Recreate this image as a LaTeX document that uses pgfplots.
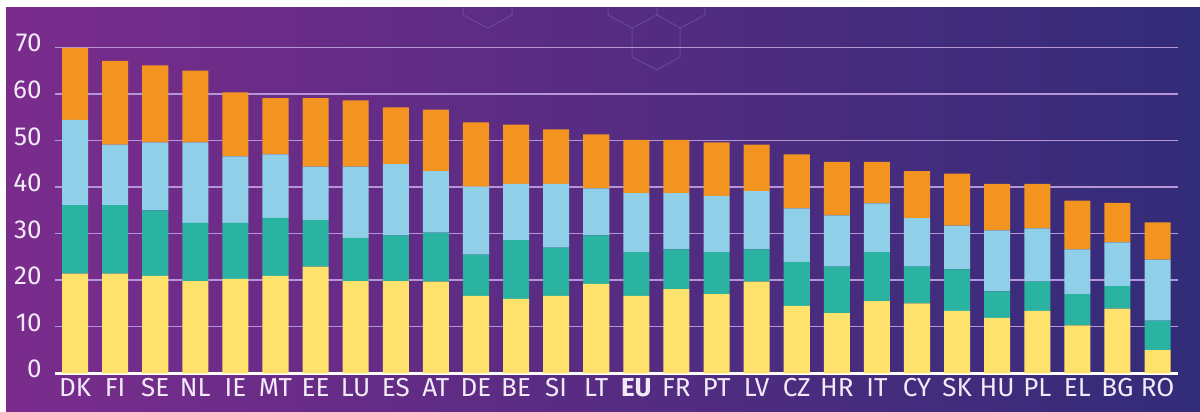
\documentclass[border=0pt]{standalone}
\usepackage{pgfplots}
\pgfplotsset{compat=1.18}
\usepackage{pgfplotstable}
\usepackage{fontspec}
\setmainfont{Fira Sans}
\definecolor{cY}{HTML}{FFE26B}
\definecolor{cT}{HTML}{2BB3A2}
\definecolor{cB}{HTML}{8FD0E8}
\definecolor{cO}{HTML}{F39420}
\definecolor{bgL}{HTML}{7A2C8C}
\definecolor{bgM}{HTML}{4B2F8A}
\definecolor{bgR}{HTML}{322C78}
\definecolor{gridC}{HTML}{B595D5}
\definecolor{lbl}{HTML}{F2EAF8}

\pgfplotstableread{
x  c1   c2   c3   c4
0  21.4 14.7 18.3 15.5
1  21.4 14.7 13.0 18.0
2  20.9 14.1 14.6 16.5
3  19.8 12.5 17.3 15.4
4  20.3 12.0 14.3 13.7
5  20.9 12.5 13.6 12.1
6  22.9 10.0 11.5 14.7
7  19.8  9.3 15.3 14.2
8  19.8  9.8 15.3 12.2
9  19.7 10.5 13.2 13.2
10 16.6  8.9 14.6 13.8
11 16.0 12.6 12.1 12.7
12 16.6 10.4 13.7 11.7
13 19.2 10.4 10.1 11.6
14 16.6  9.4 12.7 11.4
15 18.1  8.5 12.1 11.4
16 17.0  9.0 12.1 11.5
17 19.7  6.9 12.5 10.0
18 14.5  9.4 11.5 11.6
19 12.9 10.0 11.0 11.5
20 15.5 10.5 10.5  8.9
21 15.0  7.9 10.4 10.1
22 13.4  8.9  9.4 11.2
23 11.9  5.7 13.1 10.0
24 13.4  6.3 11.4  9.6
25 10.3  6.7  9.6 10.5
26 13.9  4.8  9.4  8.5
27  5.0  6.3 13.1  8.0
}\desidata

\begin{document}
\begin{tikzpicture}[x=1pt,y=1pt]
\fill[white] (0,0) rectangle (600,206);
\shade[left color=bgL, middle color=bgM, right color=bgR] (3,0) rectangle (600,202);
% faint hexagon decoration
\begin{scope}[draw=white, draw opacity=0.13, line width=0.5pt]
\draw (231.5,202) -- (231.5,198.5) -- (244,192) -- (256,198.5) -- (256,202);
\draw (304,202) -- (304,198.5) -- (316,192) -- (328.5,198.5) -- (328.5,202);
\draw (328.5,198.5) -- (340,192) -- (352.5,198.5) -- (352.5,202);
\draw (316,192) -- (316,177.5) -- (328.5,171) -- (340,177.5) -- (340,192);
\end{scope}
\begin{axis}[
  at={(27.5pt,19.35pt)}, anchor=south west,
  scale only axis, width=561.5pt, height=163pt,
  xmin=-0.5, xmax=27.51, ymin=0, ymax=70,
  ybar stacked, bar width=0.65,
  clip=false,
  axis line style={draw=none},
  tick style={draw=none},
  ytick={0,10,...,70},
  xtick={0,...,27},
  xticklabels={DK,FI,SE,NL,IE,MT,EE,LU,ES,AT,DE,BE,SI,LT,\textbf{EU},FR,PT,LV,CZ,HR,IT,CY,SK,HU,PL,EL,BG,RO},
  ymajorgrids,
  grid style={gridC, line width=0.75pt},
  /pgf/number format/assume math mode=true,
  ticklabel style={font=\fontsize{13}{15}\selectfont, text=lbl},
  yticklabel style={anchor=east, inner sep=0pt, xshift=-6.5pt, yshift=2pt},
  xticklabel style={anchor=north, inner sep=0pt, yshift=-2.5pt},
]
\addplot[fill=cY, draw=none] table[x=x, y=c1] {\desidata};
\addplot[fill=cT, draw=none] table[x=x, y=c2] {\desidata};
\addplot[fill=cB, draw=none] table[x=x, y=c3] {\desidata};
\addplot[fill=cO, draw=none] table[x=x, y=c4] {\desidata};
\draw[white, line width=1.4pt] (axis cs:-0.5,0) -- (axis cs:27.51,0);
\end{axis}
\end{tikzpicture}
\end{document}
